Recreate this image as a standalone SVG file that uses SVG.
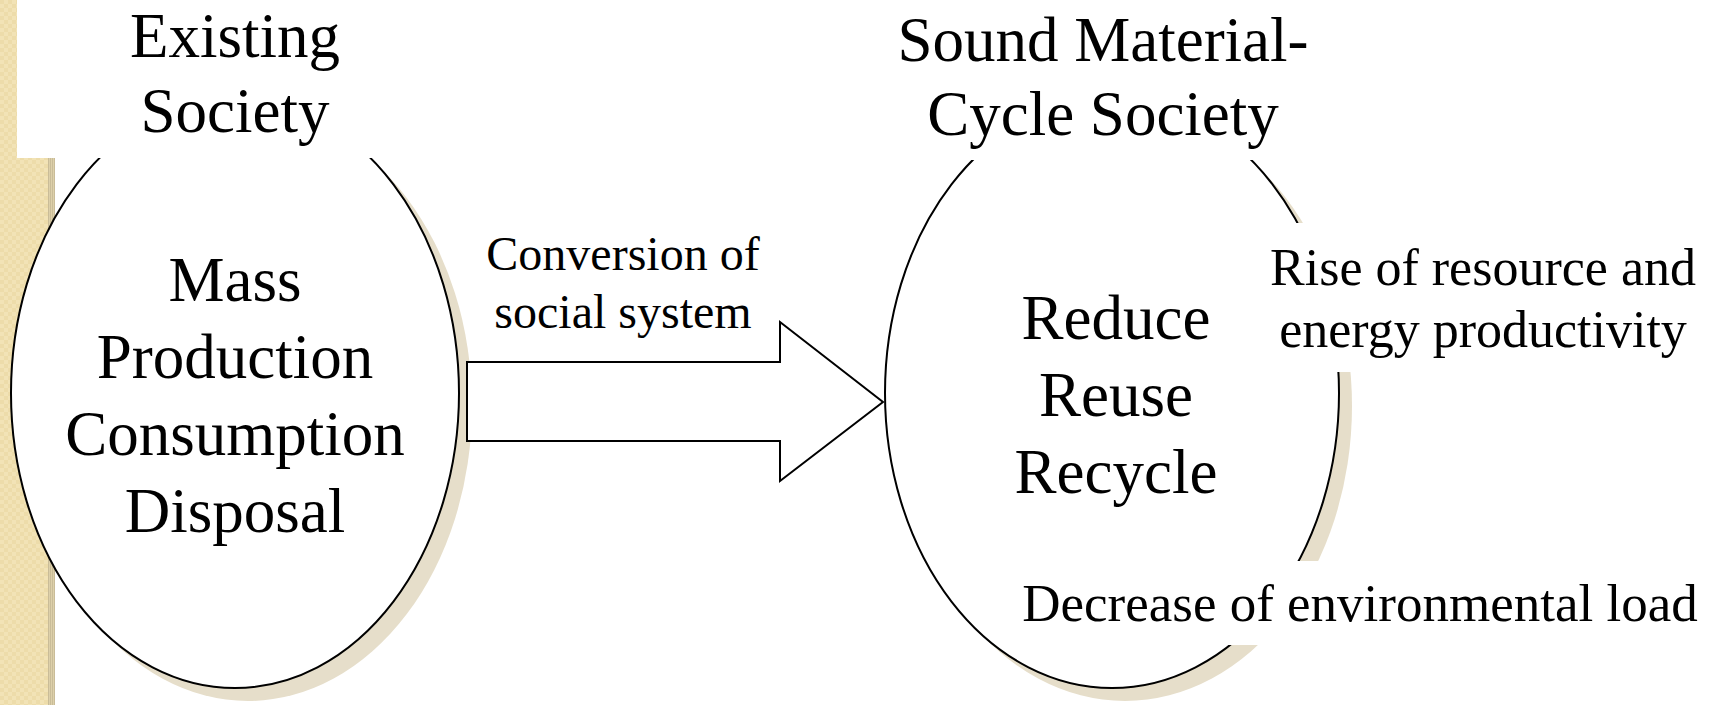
<svg xmlns="http://www.w3.org/2000/svg" width="1719" height="705" viewBox="0 0 1719 705">
  <defs>
    <pattern id="chk" width="8" height="8" patternUnits="userSpaceOnUse">
      <rect width="8" height="8" fill="#F2E3B6"/>
      <rect width="4" height="4" fill="#EDDCAA"/>
      <rect x="4" y="4" width="4" height="4" fill="#EDDCAA"/>
    </pattern>
    <pattern id="stripe" width="2" height="2" patternUnits="userSpaceOnUse">
      <rect width="2" height="2" fill="#DDD0AA"/>
      <rect width="1" height="2" fill="#C9BC98"/>
    </pattern>
  </defs>
  <style>
    .shadow { fill: #E6DECA; stroke: none; }
    .ell { fill: #FFFFFF; stroke: #000000; stroke-width: 2; }
    .mask { fill: #FFFFFF; stroke: none; }
    .t { font-family: "Liberation Serif", "Times New Roman", serif; fill: #000000; text-anchor: middle; }
    .big { font-size: 63px; }
    .mid { font-size: 48px; }
    .arrow { fill: #FFFFFF; stroke: #000000; stroke-width: 2; stroke-linejoin: miter; }
  </style>

  <!-- background side strip -->
  <g id="background">
    <rect x="0" y="0" width="1719" height="705" fill="#FFFFFF"/>
    <rect x="0" y="0" width="48" height="705" fill="url(#chk)"/>
    <rect x="48" y="0" width="7" height="705" fill="url(#stripe)"/>
  </g>

  <!-- left node: existing society -->
  <g id="existing-society">
    <ellipse class="shadow" cx="248" cy="406" rx="224" ry="295"/>
    <ellipse class="ell" cx="235" cy="393" rx="224" ry="295"/>
  </g>

  <!-- right node: sound material-cycle society -->
  <g id="sound-material-cycle-society">
    <ellipse class="shadow" cx="1125" cy="406" rx="227" ry="295"/>
    <ellipse class="ell" cx="1112" cy="393" rx="227" ry="295"/>
  </g>

  <!-- connector: block arrow -->
  <g id="connectors">
    <polygon class="arrow" points="467,362 780,362 780,322 883,402 780,481 780,441 467,441"/>
  </g>

  <!-- label boxes (white backgrounds) -->
  <g id="title-left">
    <rect class="mask" x="17" y="0" width="420" height="158"/>
    <text class="t big" x="235" y="57">Existing</text>
    <text class="t big" x="235" y="132">Society</text>
  </g>
  <g id="title-right">
    <rect class="mask" x="880" y="0" width="460" height="160"/>
    <text class="t big" x="1103" y="61">Sound Material-</text>
    <text class="t big" x="1103" y="135">Cycle Society</text>
  </g>

  <g id="left-content">
    <text class="t big" x="235" y="301">Mass</text>
    <text class="t big" x="235" y="378">Production</text>
    <text class="t big" x="235" y="455">Consumption</text>
    <text class="t big" x="235" y="532">Disposal</text>
  </g>

  <g id="arrow-label">
    <text class="t mid" x="623" y="270">Conversion of</text>
    <text class="t mid" x="623" y="328">social system</text>
  </g>

  <g id="right-content">
    <text class="t big" x="1116" y="339">Reduce</text>
    <text class="t big" x="1116" y="416">Reuse</text>
    <text class="t big" x="1116" y="493">Recycle</text>
  </g>

  <g id="benefit-productivity">
    <rect class="mask" x="1255" y="223" width="464" height="149"/>
    <text class="t" style="font-size:52px" x="1483" y="285">Rise of resource and</text>
    <text class="t" style="font-size:52px" x="1483" y="347">energy productivity</text>
  </g>

  <g id="benefit-environment">
    <rect class="mask" x="1010" y="561" width="709" height="84"/>
    <text class="t" style="font-size:53px" x="1360" y="621">Decrease of environmental load</text>
  </g>
</svg>
